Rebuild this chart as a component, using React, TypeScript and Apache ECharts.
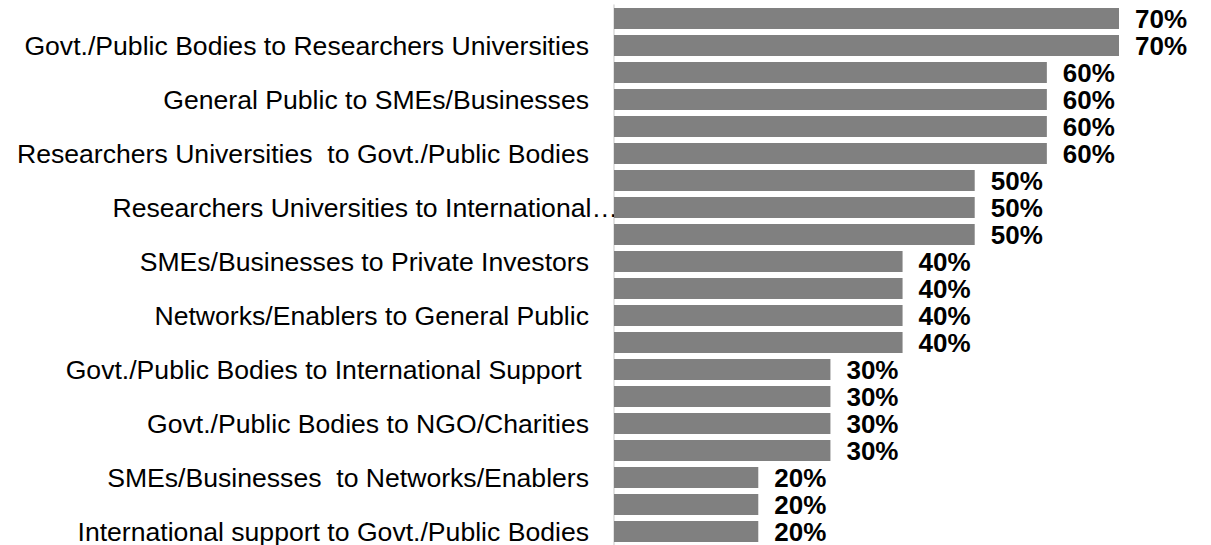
import React, { useEffect, useRef } from "react";
import * as echarts from "echarts";

const labels = [
  "Govt./Public Bodies to Researchers Universities",
  "General Public to SMEs/Businesses",
  "Researchers Universities  to Govt./Public Bodies",
  "Researchers Universities to International…",
  "SMEs/Businesses to Private Investors",
  "Networks/Enablers to General Public",
  "Govt./Public Bodies to International Support ",
  "Govt./Public Bodies to NGO/Charities",
  "SMEs/Businesses  to Networks/Enablers",
  "International support to Govt./Public Bodies",
];

const values = [70, 70, 60, 60, 60, 60, 50, 50, 50, 40, 40, 40, 40, 30, 30, 30, 30, 20, 20, 20];

// The truncated label runs past the axis in the reference
const overflowLabel = "Researchers Universities to International…";

const FONT = "'Liberation Sans', Arial, sans-serif";

export default function App() {
  const ref = useRef<HTMLDivElement>(null);
  useEffect(() => {
    document.body.style.margin = "0";
    const categories = values.map((_, i) => {
      const name = labels[Math.floor(i / 2)];
      if (name === overflowLabel && i % 2 === 1) {
        return { value: name, textStyle: { padding: [0, -29, 0, 0] } };
      }
      return name;
    });
    const chart = echarts.init(ref.current!, undefined, { renderer: "svg" });
    chart.setOption({
      animation: false,
      grid: { left: 614, top: 5, height: 540, width: 505, containLabel: false },
      xAxis: { type: "value", min: 0, max: 70, show: false },
      yAxis: {
        type: "category",
        inverse: true,
        data: categories,
        axisLine: { show: true, lineStyle: { color: "#d9d9d9", width: 1.5 } },
        axisTick: { show: false },
        axisLabel: {
          interval: (index: number) => index % 2 === 1,
          margin: 25,
          fontSize: 26.6,
          fontFamily: FONT,
          color: "#000",
        },
      },
      series: [
        {
          type: "bar",
          data: values,
          barCategoryGap: "22%",
          itemStyle: { color: "#808080" },
          label: {
            show: true,
            position: "right",
            distance: 16,
            formatter: "{c}%",
            fontSize: 26,
            lineHeight: 22,
            fontWeight: "bold",
            fontFamily: FONT,
            color: "#000",
          },
        },
      ],
    });
    return () => chart.dispose();
  }, []);
  return <div ref={ref} style={{ width: 1211, height: 545 }} />;
}
